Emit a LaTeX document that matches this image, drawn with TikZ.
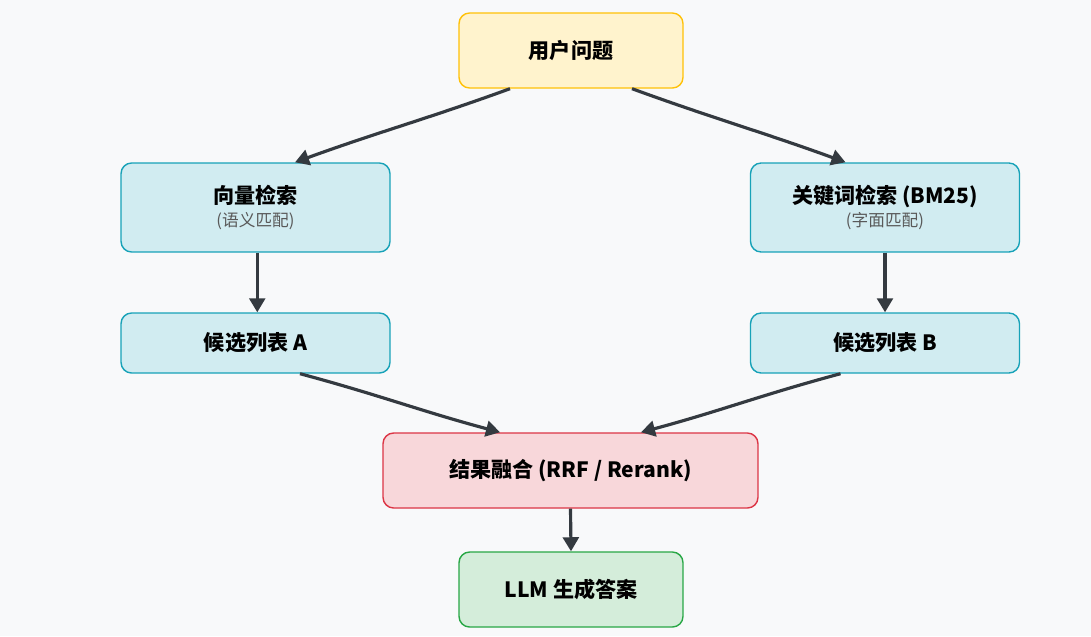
\documentclass[tikz,border=0pt]{standalone}
\usepackage{fontspec}
\setmainfont{Noto Sans CJK SC}
\usetikzlibrary{arrows.meta}
\definecolor{bgc}{HTML}{F8F9FA}
\definecolor{ylf}{HTML}{FFF3CD}
\definecolor{yld}{HTML}{FFC107}
\definecolor{blf}{HTML}{D1ECF1}
\definecolor{bld}{HTML}{17A2B8}
\definecolor{rdf}{HTML}{F8D7DA}
\definecolor{rdd}{HTML}{DC3545}
\definecolor{gnf}{HTML}{D4EDDA}
\definecolor{gnd}{HTML}{28A745}
\definecolor{arr}{HTML}{343A40}
\newcommand{\subtxt}[1]{{\normalfont\fontsize{9.5}{11}\selectfont\color{black!65}#1}}
\tikzset{
  box/.style={draw, thick, rounded corners=6pt, align=center, font=\bfseries\fontsize{12}{14}\selectfont},
  yb/.style={box, fill=ylf, draw=yld, minimum width=4.48cm, minimum height=1.5cm},
  bb/.style={box, fill=blf, draw=bld, minimum width=5.38cm},
  rb/.style={box, fill=rdf, draw=rdd, minimum width=7.5cm, minimum height=1.5cm},
  gb/.style={box, fill=gnf, draw=gnd, minimum width=4.48cm, minimum height=1.5cm},
  flow/.style={draw=arr, line width=1.8pt, -{Triangle[length=8pt,width=9pt]}}
}
\begin{document}
\begin{tikzpicture}[x=0.02cm,y=-0.02cm]
\fill[bgc] (0,0) rectangle (1091,636);
\node[yb] (q) at (571,50.5) {用户问题};
\node[bb, minimum height=1.78cm] (vec) at (255.5,207.5) {向量检索\\[-1pt]\subtxt{(语义匹配)}};
\node[bb, minimum height=1.78cm] (kw) at (885,207.5) {关键词检索 (BM25)\\[-1pt]\subtxt{(字面匹配)}};
\node[bb, minimum height=1.2cm] (la) at (255.5,343) {候选列表 A};
\node[bb, minimum height=1.2cm] (lb) at (885,343) {候选列表 B};
\node[rb] (fuse) at (570.5,470.5) {结果融合 (RRF / Rerank)};
\node[gb] (llm) at (571,589.5) {LLM 生成答案};
% connectors
\draw[flow] ([xshift=-1.22cm]q.south) to[out=-160,in=20] ([xshift=0.79cm]vec.north);
\draw[flow] ([xshift=1.22cm]q.south) to[out=-20,in=160] ([xshift=-0.79cm]kw.north);
\draw[flow] ([xshift=1pt]vec.south) -- ([xshift=1pt]la.north);
\draw[flow] (kw.south) -- (lb.north);
\draw[flow] ([xshift=0.89cm]la.south) to[out=-15,in=165] ([xshift=-1.41cm]fuse.north);
\draw[flow] ([xshift=-0.89cm]lb.south) to[out=-165,in=15] ([xshift=1.41cm]fuse.north);
\draw[flow] (fuse.south) -- (llm.north);
\end{tikzpicture}
\end{document}
